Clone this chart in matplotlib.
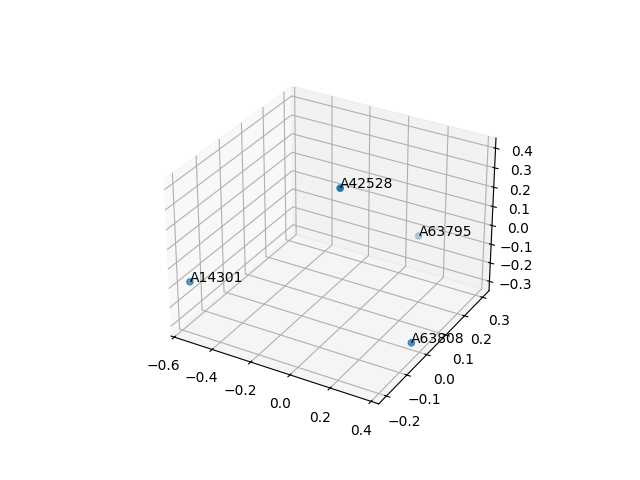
import matplotlib
matplotlib.use('Agg')
import matplotlib.pyplot as plt
import numpy as np

labels = ['A14301', 'A42528', 'A63795', 'A63808']
xs = [-0.55, 0.025, 0.1, 0.37]
ys = [-0.2, -0.025, 0.3, -0.01]
zs = [-0.08, 0.4, -0.12, -0.3]

fig = plt.figure(figsize=(6.4, 4.8), dpi=100)
ax = fig.add_subplot(projection='3d')
ax.scatter(xs, ys, zs)
for x, y, z, lab in zip(xs, ys, zs, labels):
    ax.text(x, y, z, lab)

fig.savefig('out.png')
